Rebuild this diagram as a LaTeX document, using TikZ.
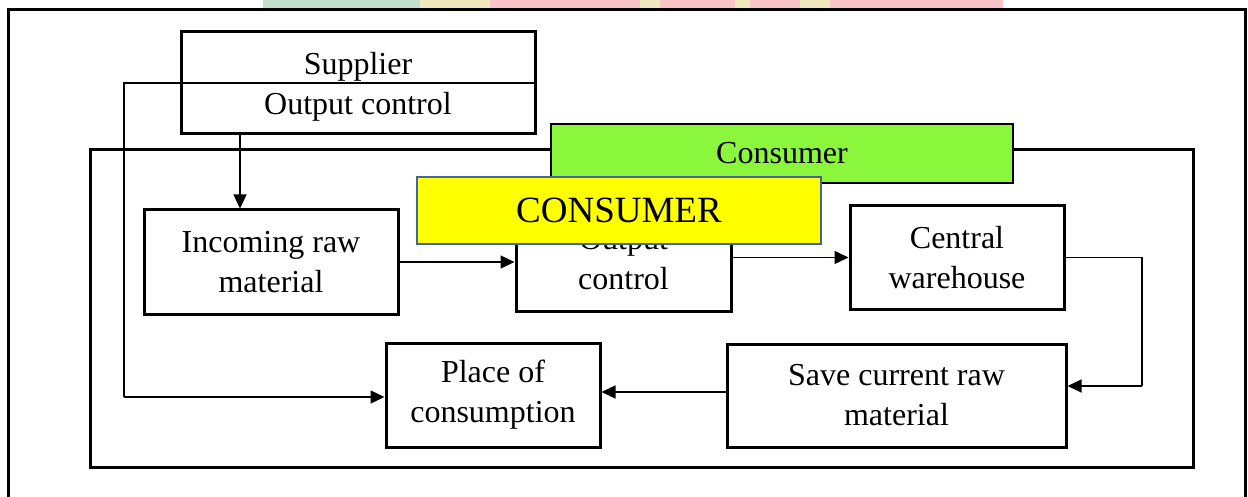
\documentclass[tikz,border=0pt]{standalone}
\usepackage{fontspec}
\setmainfont{Liberation Serif}
\usetikzlibrary{arrows.meta}
\definecolor{cgreen}{RGB}{138,246,60}
\definecolor{cyellow}{RGB}{255,255,0}
\definecolor{cblue}{RGB}{65,100,160}
\definecolor{wmgreen}{RGB}{196,222,206}
\definecolor{wmpink}{RGB}{248,198,200}
\definecolor{wmyellow}{RGB}{240,232,190}
\tikzset{
  box/.style={draw=black, line width=3pt, fill=white, align=center, inner sep=0pt,
    font=\fontsize{32}{40}\selectfont},
  txt/.style={align=center, inner sep=0pt, font=\fontsize{32}{40}\selectfont},
  conn/.style={draw=black, line width=1.4pt},
  arr/.style={conn, -{Triangle[length=14pt,width=13pt]}},
  frame/.style={draw=black, line width=3pt},
}
\begin{document}
\begin{tikzpicture}[x=1pt,y=-1pt]
\useasboundingbox (0,0) rectangle (1248,497);
\clip (0,0) rectangle (1248,497);
\fill[white] (0,0) rectangle (1248,497);
% faint watermark strip at the top
\fill[wmgreen] (263,0) rectangle (420,8);
\fill[wmyellow] (420,0) rectangle (490,8);
\fill[wmpink] (490,0) rectangle (1003,8);
\fill[wmyellow] (640,0) rectangle (660,8);
\fill[wmyellow] (735,0) rectangle (750,8);
\fill[wmyellow] (800,0) rectangle (830,8);
% outer frame
\draw[frame] (8,10) rectangle (1245,520);
% consumer frame
\draw[frame] (90,150) rectangle (1193,467);
\node[draw=black, line width=2.6pt, fill=cgreen, minimum width=462pt, minimum height=59pt,
  font=\fontsize{32}{38}\selectfont] (cons) at (782,153.5) {Consumer};
% boxes
\node[box, minimum width=354pt, minimum height=102pt] (supplier) at (358,83) {};
\node[txt] (suptext) at (358,87) {Supplier\\Output control};
\node[box, minimum width=254pt, minimum height=104pt] (incoming) at (271,262) {Incoming raw\\material};
\node[box, minimum width=215pt, minimum height=104pt] (outctrl) at (623.5,259) {Output\\control};
\node[box, minimum width=214pt, minimum height=103pt] (central) at (957,257.5) {Central\\warehouse};
\node[box, minimum width=339pt, minimum height=103pt] (save) at (896.5,395.5) {Save current raw\\material};
\node[box, minimum width=214pt, minimum height=104pt] (place) at (493,395) {Place of\\consumption};
% helper coordinates
\coordinate (s1) at (537,83);
\coordinate (lc) at (124,83);
\coordinate (lb) at (124,397);
\coordinate (a1) at (240,134);
\coordinate (rc) at (1142,386);
\coordinate (m) at (0,392);
% connectors
\draw[conn] (s1) -- (lc) -- (lb);
\draw[arr] (lb) -- (place.west |- lb);
\draw[arr] (a1) -- (a1 |- incoming.north);
\draw[arr] (incoming.east) -- (incoming.east -| outctrl.west);
\draw[arr] (central.west -| outctrl.east) -- (central.west);
\draw[conn] (central.east) -- (central.east -| rc) -- (rc);
\draw[arr] (rc) -- (save.east |- rc);
\draw[arr] (save.west |- m) -- (place.east |- m);
% yellow overlay
\node[draw=cblue, line width=1.6pt, fill=cyellow, minimum width=404pt, minimum height=67pt,
  font=\fontsize{37}{42}\selectfont] (big) at (619,210.5) {CONSUMER};
\end{tikzpicture}
\end{document}
